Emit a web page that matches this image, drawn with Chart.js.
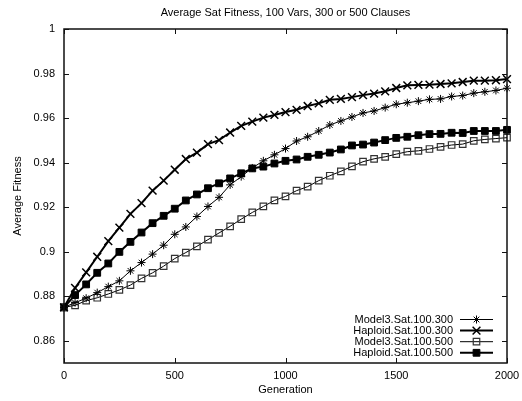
<!DOCTYPE html>
<html>
<head>
<meta charset="utf-8">
<script src="https://cdn.jsdelivr.net/npm/chart.js"></script>
<style>
  html, body { margin: 0; padding: 0; background: #fff; }
  #wrap { width: 522px; height: 401px; }
</style>
</head>
<body>
<div id="wrap"><canvas id="satChart"></canvas></div>
<script>
const chartTitle = 'Average Sat Fitness, 100 Vars, 300 or 500 Clauses';

const generations = [0, 50, 100, 150, 200, 250, 300, 350, 400, 450, 500, 550, 600, 650, 700, 750, 800,
  850, 900, 950, 1000, 1050, 1100, 1150, 1200, 1250, 1300, 1350, 1400, 1450, 1500, 1550, 1600,
  1650, 1700, 1750, 1800, 1850, 1900, 1950, 2000];

const model3_300 = [0.875, 0.8771, 0.8791, 0.8816, 0.8843, 0.8869, 0.8914, 0.8951, 0.8989, 0.9029,
  0.9078, 0.9111, 0.9158, 0.9203, 0.9244, 0.9300, 0.9337, 0.9376, 0.9408, 0.9435,
  0.9463, 0.9497, 0.9516, 0.9542, 0.9569, 0.9587, 0.9605, 0.9623, 0.9632, 0.9647,
  0.9662, 0.9669, 0.9676, 0.9684, 0.9686, 0.9697, 0.9701, 0.9712, 0.9718, 0.9724, 0.9734];

const haploid_300 = [0.875, 0.8837, 0.8907, 0.8977, 0.9047, 0.9108, 0.9170, 0.9218, 0.9274, 0.9319,
  0.9368, 0.9416, 0.9445, 0.9483, 0.9501, 0.9535, 0.9565, 0.9584, 0.9602, 0.9614,
  0.9627, 0.9637, 0.9654, 0.9666, 0.9682, 0.9686, 0.9694, 0.9703, 0.9710, 0.9720,
  0.9735, 0.9747, 0.9749, 0.9750, 0.9753, 0.9756, 0.9762, 0.9768, 0.9768, 0.9770, 0.9775];

const model3_500 = [0.875, 0.8759, 0.8780, 0.8793, 0.8810, 0.8828, 0.8850, 0.8880, 0.8905, 0.8935,
  0.8969, 0.8996, 0.9024, 0.9054, 0.9084, 0.9114, 0.9146, 0.9176, 0.9203, 0.9230,
  0.9248, 0.9274, 0.9292, 0.9319, 0.9341, 0.9361, 0.9383, 0.9404, 0.9417, 0.9426,
  0.9438, 0.9449, 0.9453, 0.9461, 0.9471, 0.9479, 0.9483, 0.9498, 0.9504, 0.9508, 0.9512];

const haploid_500 = [0.875, 0.8805, 0.8853, 0.8905, 0.8947, 0.8999, 0.9044, 0.9086, 0.9128, 0.9161,
  0.9193, 0.9230, 0.9257, 0.9285, 0.9307, 0.9329, 0.9352, 0.9374, 0.9382, 0.9396,
  0.9408, 0.9414, 0.9426, 0.9435, 0.9445, 0.9459, 0.9477, 0.9481, 0.9490, 0.9501,
  0.9511, 0.9516, 0.9523, 0.9528, 0.9529, 0.9534, 0.9533, 0.9542, 0.9542, 0.9542, 0.9547];

const xTicks = [0, 500, 1000, 1500, 2000];
const yTicks = [0.86, 0.88, 0.90, 0.92, 0.94, 0.96, 0.98, 1.00];

const FONT = '"Liberation Sans", Arial, Helvetica, sans-serif';
Chart.defaults.font.family = FONT;
Chart.defaults.font.size = 11;
Chart.defaults.color = '#000';

function pts(values) {
  return generations.map((g, i) => ({ x: g, y: values[i] }));
}

// title centred over the plot area (gnuplot does it that way)
const titlePlugin = {
  id: 'plotTitle',
  afterDraw(chart) {
    const { ctx, chartArea: a } = chart;
    ctx.save();
    ctx.font = '11px ' + FONT;
    ctx.fillStyle = '#000';
    ctx.textAlign = 'center';
    ctx.textBaseline = 'middle';
    ctx.fillText(chartTitle, (a.left + a.right) / 2, 12.5);
    ctx.restore();
  }
};

// gnuplot style border with inward ticks on all four sides
const framePlugin = {
  id: 'frame',
  afterDraw(chart) {
    const { ctx, chartArea: a, scales } = chart;
    ctx.save();
    ctx.strokeStyle = '#111';
    ctx.lineWidth = 1.5;
    ctx.strokeRect(a.left, a.top, a.right - a.left, a.bottom - a.top);
    ctx.lineWidth = 1;
    ctx.beginPath();
    scales.y.ticks.forEach(t => {
      const py = Math.round(scales.y.getPixelForValue(t.value)) + 0.5;
      ctx.moveTo(a.left, py); ctx.lineTo(a.left + 5, py);
      ctx.moveTo(a.right, py); ctx.lineTo(a.right - 5, py);
    });
    scales.x.ticks.forEach(t => {
      const px = Math.round(scales.x.getPixelForValue(t.value)) + 0.5;
      ctx.moveTo(px, a.bottom); ctx.lineTo(px, a.bottom - 5);
      ctx.moveTo(px, a.top); ctx.lineTo(px, a.top + 5);
    });
    ctx.stroke();
    ctx.restore();
  }
};

// key in the lower right corner: text, then line sample with marker
const keyPlugin = {
  id: 'key',
  afterDraw(chart) {
    const { ctx, chartArea: a } = chart;
    ctx.save();
    ctx.font = '11px ' + FONT;
    ctx.textAlign = 'right';
    ctx.textBaseline = 'middle';
    chart.data.datasets.forEach((ds, i) => {
      const y = a.bottom - 43.5 + i * 11.1;
      ctx.fillStyle = '#000';
      ctx.fillText(ds.label, a.right - 54, y);
      ctx.strokeStyle = ds.borderColor;
      ctx.lineWidth = ds.borderWidth;
      ctx.beginPath();
      ctx.moveTo(a.right - 47, y);
      ctx.lineTo(a.right - 14, y);
      ctx.stroke();
      ctx.fillStyle = ds.pointBackgroundColor;
      ctx.strokeStyle = ds.pointBorderColor;
      ctx.lineWidth = ds.pointBorderWidth;
      Chart.helpers.drawPoint(ctx, {
        pointStyle: ds.pointStyle,
        radius: ds.pointRadius,
        borderWidth: ds.pointBorderWidth,
        rotation: 0
      }, a.right - 30.5, y);
    });
    ctx.restore();
  }
};

new Chart(document.getElementById('satChart').getContext('2d'), {
  type: 'line',
  data: {
    datasets: [
      {
        label: 'Model3.Sat.100.300',
        data: pts(model3_300),
        borderColor: '#000',
        borderWidth: 1,
        pointStyle: 'star',
        pointRadius: 4,
        pointBorderWidth: 1,
        pointBorderColor: '#000',
        pointBackgroundColor: '#000'
      },
      {
        label: 'Haploid.Sat.100.300',
        data: pts(haploid_300),
        borderColor: '#000',
        borderWidth: 2,
        pointStyle: 'crossRot',
        pointRadius: 5.5,
        pointBorderWidth: 1.5,
        pointBorderColor: '#000',
        pointBackgroundColor: '#000'
      },
      {
        label: 'Model3.Sat.100.500',
        data: pts(model3_500),
        borderColor: '#000',
        borderWidth: 1,
        pointStyle: 'rect',
        pointRadius: 4.6,
        pointBorderWidth: 1.2,
        pointBorderColor: '#333',
        pointBackgroundColor: 'rgba(0,0,0,0)'
      },
      {
        label: 'Haploid.Sat.100.500',
        data: pts(haploid_500),
        borderColor: '#000',
        borderWidth: 2,
        pointStyle: 'rect',
        pointRadius: 4.8,
        pointBorderWidth: 1,
        pointBorderColor: '#000',
        pointBackgroundColor: '#000'
      }
    ]
  },
  options: {
    responsive: true,
    maintainAspectRatio: false,
    animation: false,
    devicePixelRatio: 1,
    clip: false,
    elements: { line: { tension: 0, fill: false } },
    layout: { padding: { top: 29, left: 0, right: 15, bottom: 0 } },
    plugins: {
      legend: { display: false },
      tooltip: { enabled: false },
      title: { display: false }
    },
    scales: {
      x: {
        type: 'linear',
        min: 0,
        max: 2000,
        afterBuildTicks: s => { s.ticks = xTicks.map(v => ({ value: v })); },
        afterFit: s => { s.height = 38; s.paddingLeft = 0; s.paddingRight = 0; },
        grid: { display: false, drawTicks: false },
        border: { display: false },
        ticks: { padding: 6, maxRotation: 0, color: '#000', callback: v => String(v) },
        title: { display: true, text: 'Generation', color: '#000', padding: { top: 0, bottom: 4.9 } }
      },
      y: {
        type: 'linear',
        min: 0.85,
        max: 1,
        afterBuildTicks: s => { s.ticks = yTicks.map(v => ({ value: v })); },
        afterFit: s => { s.width = 64; s.paddingTop = 0; s.paddingBottom = 0; },
        grid: { display: false, drawTicks: false },
        border: { display: false },
        ticks: { padding: 9, color: '#000', callback: v => String(Math.round(v * 100) / 100) },
        title: { display: true, text: 'Average Fitness', color: '#000', padding: { top: 11.4, bottom: 0 } }
      }
    }
  },
  plugins: [framePlugin, keyPlugin, titlePlugin]
});
</script>
</body>
</html>
